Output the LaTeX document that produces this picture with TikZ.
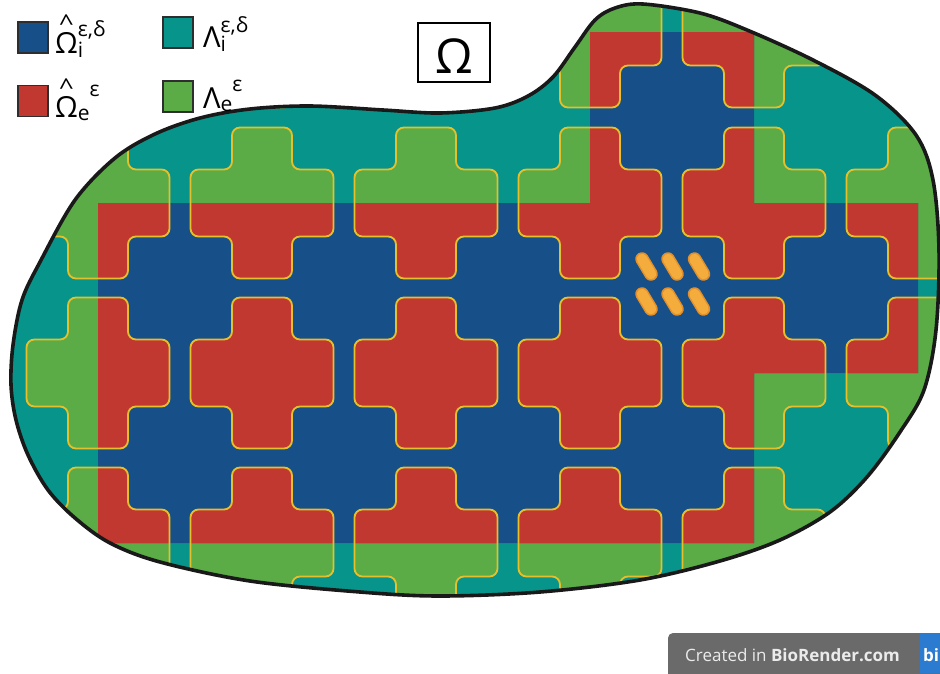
\documentclass[tikz,border=0pt]{standalone}
\usepackage{fontspec}
\setmainfont{Open Sans}
\usepackage{graphicx}
\definecolor{cblue}{HTML}{175088}
\definecolor{cteal}{HTML}{07958B}
\definecolor{cred}{HTML}{C13830}
\definecolor{cgreen}{HTML}{5BAB46}
\definecolor{cyel}{HTML}{E6C02A}
\definecolor{corange}{HTML}{F4AC3C}
\definecolor{corange2}{HTML}{E2902C}
\definecolor{cgray}{HTML}{6A6A6A}
\definecolor{cbrblue}{HTML}{2B7CD0}
\definecolor{cedge}{HTML}{2E2E2E}
\newcommand\crs[2]{(#1,#2-75.5) -- (#1+30,#2-75.5) -- (#1+30,#2-33.5) -- (#1+71.5,#2-33.5) -- (#1+71.5,#2+33.5) -- (#1+30,#2+33.5) -- (#1+30,#2+75.5) -- (#1-30,#2+75.5) -- (#1-30,#2+33.5) -- (#1-71.5,#2+33.5) -- (#1-71.5,#2-33.5) -- (#1-30,#2-33.5) -- (#1-30,#2-75.5) -- cycle}
\newcommand\blobpath{plot[smooth cycle, tension=0.55] coordinates {(643,4) (700,13) (747,30) (813,60) (875,95) (916,135) (933,180) (939,250) (936,330) (924,390) (900,432) (867,477) (830,512) (780,540) (720,561) (640,580) (540,592) (440,596) (360,592) (250,581) (160,562) (110,543) (75,518) (48,490) (28,455) (16,420) (11,385) (13,345) (22,300) (40,262) (75,200) (115,158) (155,134) (200,118) (250,109) (310,106) (383,110) (440,113) (495,108) (528,96) (553,77) (575,47) (595,20) (615,8)}}
\newcommand\inpoly{(98,203) -- (590,203) -- (590,32) -- (754,32) -- (754,203) -- (918,203) -- (918,373) -- (754,373) -- (754,543) -- (98,543) -- cycle}
\newcommand\hatOm{\leavevmode\hbox{\ooalign{Ω\cr\hidewidth\raisebox{22pt}{\scalebox{0.9}[0.8]{\textasciicircum}}\hidewidth\cr}}}
\newcommand\supfont{\fontsize{21}{21}\selectfont}
\newcommand\subfont{\fontsize{21}{21}\selectfont}
\tikzset{
  legsq/.style={draw=cedge, line width=1.6pt, minimum width=30pt, minimum height=31pt, inner sep=0pt},
  legtxt/.style={anchor=base west, inner sep=0pt, font=\fontsize{29}{29}\selectfont},
  crossfill/.style={rounded corners=8pt},
  crossline/.style={draw=cyel, line width=1.8pt, rounded corners=8pt},
  capsB/.style={draw=corange2, line width=13.5pt, line cap=round},
  capsF/.style={draw=corange, line width=10.5pt, line cap=round}
}
\begin{document}
\begin{tikzpicture}[x=1pt,y=-1pt]
\useasboundingbox (0,0) rectangle (940,673);
\begin{scope}
  \clip \blobpath;
  \fill[cteal] (0,0) rectangle (940,673);
  \foreach \x in {-66,98,262,426,590,754,918}
    \foreach \y in {32,203,373,543}
      \fill[cgreen, crossfill] \crs{\x}{\y};
  \begin{scope}
    \clip \inpoly;
    \fill[cblue] (0,0) rectangle (940,673);
    \foreach \x in {-66,98,262,426,590,754,918}
      \foreach \y in {32,203,373,543}
        \fill[cred, crossfill] \crs{\x}{\y};
  \end{scope}
  \foreach \x in {-66,98,262,426,590,754,918}
    \foreach \y in {32,203,373,543}
      \draw[crossline] \crs{\x}{\y};
\end{scope}
\draw[black!90, line width=3.6pt] \blobpath;
% rods
\foreach \cx/\cy in {646.5/266.5, 672.5/266.5, 699/266.5, 646.5/301.5, 672.5/301.5, 699/301.5}{
  \draw[capsB] (\cx-4.5,\cy-7.5) -- (\cx+4.5,\cy+7.5);
  \draw[capsF] (\cx-4.5,\cy-7.5) -- (\cx+4.5,\cy+7.5);
}
% legend
\node[legsq, fill=cblue] (sq1) at (33,37.5) {};
\node[legsq, fill=cred] (sq2) at (33,101) {};
\node[legsq, fill=cteal] (sq3) at (178,32.5) {};
\node[legsq, fill=cgreen] (sq4) at (178,96.5) {};
\node[legtxt] (t1) at (55,53) {\hatOm\rlap{\raisebox{-4pt}{\subfont i}}\raisebox{17pt}{\supfont ε,δ}};
\node[legtxt] (t2) at (55,117) {\hatOm\raisebox{-3pt}{\subfont e}\raisebox{21pt}{\supfont ε}};
\node[legtxt] (t3) at (203,47) {Λ\rlap{\raisebox{-4pt}{\subfont i}}\raisebox{15pt}{\supfont ε,δ}};
\node[legtxt] (t4) at (203,108) {Λ\raisebox{-3pt}{\subfont e}\raisebox{17pt}{\supfont ε}};
% Omega box
\node[draw=black, line width=2pt, minimum width=72pt, minimum height=59pt, inner sep=0pt, text height=41pt, text depth=0pt, font=\fontsize{48}{48}\selectfont] (om) at (454,52.5) {Ω};
% watermark
\fill[cgray, rounded corners=5pt] (668,633) rectangle (950,690);
\fill[cbrblue] (920,633) rectangle (940,673);
\node[anchor=base west, inner sep=0pt, text=white!92!black, font=\fontsize{17}{17}\selectfont] (wm) at (685,661) {Created in \textbf{BioRender.com}};
\node[anchor=base west, inner sep=0pt, text=white, font=\bfseries\fontsize{17}{17}\selectfont] (bi) at (923,661) {bi};
\end{tikzpicture}
\end{document}
